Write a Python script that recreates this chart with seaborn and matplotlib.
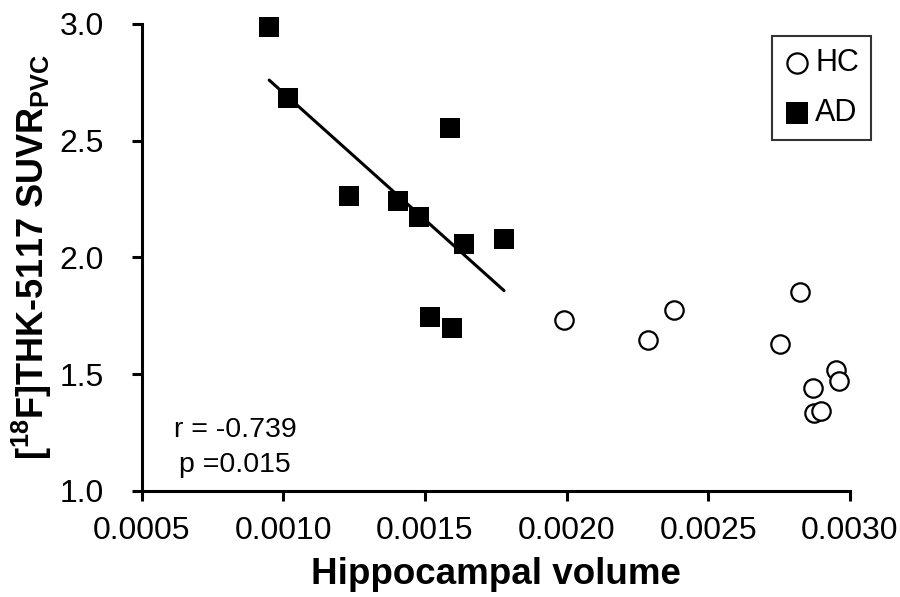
import matplotlib
matplotlib.use("Agg")
import matplotlib.pyplot as plt
import seaborn as sns
import pandas as pd

# hippocampal volume / SUVR values
hc_volume = [0.001992, 0.002288, 0.002380, 0.002825, 0.002752, 0.002952,
             0.002960, 0.002870, 0.002873, 0.002897]
hc_suvr = [1.733, 1.647, 1.774, 1.851, 1.627, 1.516, 1.470, 1.442, 1.334, 1.340]

ad_volume = [0.000950, 0.001017, 0.001589, 0.001233, 0.001406, 0.001480,
             0.001638, 0.001779, 0.001518, 0.001596]
ad_suvr = [2.986, 2.682, 2.553, 2.262, 2.241, 2.172, 2.057, 2.078, 1.744, 1.697]

x_ticks = [0.0005, 0.0010, 0.0015, 0.0020, 0.0025, 0.0030]
y_ticks = [1.0, 1.5, 2.0, 2.5, 3.0]
stats_text = ["r = -0.739", "p =0.015"]

df = pd.DataFrame({
    "volume": hc_volume + ad_volume,
    "suvr": hc_suvr + ad_suvr,
    "group": ["HC"] * len(hc_volume) + ["AD"] * len(ad_volume),
})

sns.set_style("ticks")
plt.rcParams["font.family"] = ["Liberation Sans", "DejaVu Sans"]
plt.rcParams["mathtext.fontset"] = "custom"
plt.rcParams["mathtext.rm"] = "Liberation Sans"
plt.rcParams["mathtext.bf"] = "Liberation Sans:bold"
plt.rcParams["text.color"] = "black"
plt.rcParams["axes.labelcolor"] = "black"

fig = plt.figure(figsize=(9, 5.97), dpi=100)
ax = fig.add_axes([0.1574, 0.178, 0.787, 0.782])

sns.scatterplot(data=df[df.group == "HC"], x="volume", y="suvr", ax=ax,
                marker="o", s=175, facecolor="white", edgecolor="black",
                linewidth=1.6, label="HC", zorder=3, clip_on=False)
sns.scatterplot(data=df[df.group == "AD"], x="volume", y="suvr", ax=ax,
                marker="s", s=190, color="black", edgecolor="black",
                linewidth=0, label="AD", zorder=3, clip_on=False)
sns.regplot(data=df[df.group == "AD"], x="volume", y="suvr", ax=ax,
            scatter=False, ci=None, truncate=True,
            line_kws={"color": "black", "linewidth": 2.2})

ax.set_xlim(0.0005, 0.0030)
ax.set_ylim(1.0, 3.0)
ax.set_xticks(x_ticks)
ax.set_xticklabels([f"{t:.4f}" for t in x_ticks])
ax.set_yticks(y_ticks)
ax.set_yticklabels([f"{t:.1f}" for t in y_ticks])
ax.tick_params(axis="both", labelsize=23, width=2.2, length=7, direction="out",
               color="black", labelcolor="black")
ax.tick_params(axis="x", pad=11)
ax.tick_params(axis="y", pad=20)

for side in ["top", "right"]:
    ax.spines[side].set_visible(False)
for side in ["left", "bottom"]:
    ax.spines[side].set_linewidth(2.2)
    ax.spines[side].set_color("black")

ax.set_xlabel("Hippocampal volume", fontsize=26.5, fontweight="bold", labelpad=8)
ax.set_ylabel(r"[$\mathbf{^{18}}$F]THK-5117 SUVR$_{\mathbf{PVC}}$",
              fontsize=26, fontweight="bold", labelpad=4)

ax.text(0.1317, 0.130, stats_text[0], transform=ax.transAxes, ha="center",
        va="center", fontsize=20.5)
ax.text(0.1317, 0.055, stats_text[1], transform=ax.transAxes, ha="center",
        va="center", fontsize=20.5)

leg = ax.legend(loc="upper right", bbox_to_anchor=(1.03, 0.975), borderaxespad=0,
                fontsize=22, frameon=True, fancybox=False, handlelength=0.8,
                handletextpad=0.2, borderpad=0.4, labelspacing=0.65,
                markerscale=1.1)
leg.get_frame().set_edgecolor("black")
leg.get_frame().set_linewidth(1.5)

fig.savefig("out.png", dpi=100)
